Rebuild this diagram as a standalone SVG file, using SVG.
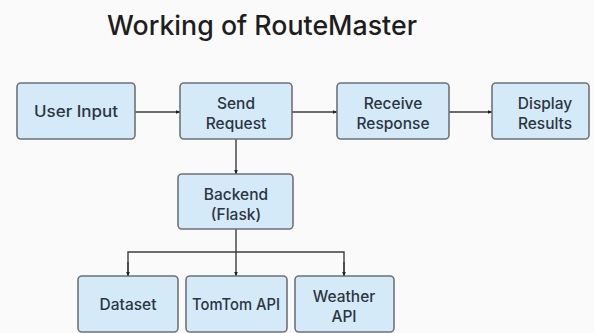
<svg xmlns="http://www.w3.org/2000/svg" width="594" height="333" viewBox="0 0 594 333">
  <defs>
    <style>
      .box { fill: #d5eaf8; stroke: #6e7276; stroke-width: 1.6; }
      .lbl { font-family: Inter, "Liberation Sans", Arial, sans-serif; font-weight: 500; font-size: 15.5px; fill: #2c3540; text-anchor: middle; }
      .title { font-family: Inter, "Liberation Sans", Arial, sans-serif; font-weight: 500; font-size: 27px; fill: #1e1e1e; text-anchor: middle; }
      .conn { fill: none; stroke: #3a3d40; stroke-width: 1.4; }
    </style>
    <marker id="arr" viewBox="0 0 10 10" refX="9" refY="5" markerWidth="5" markerHeight="5" orient="auto" markerUnits="userSpaceOnUse">
      <path d="M0,1 L10,5 L0,9 z" fill="#222"/>
    </marker>
  </defs>
  <rect x="0" y="0" width="594" height="333" fill="#fafafa"/>
  <text class="title" x="262" y="35" textLength="310" lengthAdjust="spacingAndGlyphs">Working of RouteMaster</text>

  <g id="connectors">
    <line class="conn" x1="135" y1="112" x2="180" y2="112" marker-end="url(#arr)"/>
    <line class="conn" x1="292" y1="112" x2="337" y2="112" marker-end="url(#arr)"/>
    <line class="conn" x1="449" y1="112" x2="492" y2="112" marker-end="url(#arr)"/>
    <line class="conn" x1="236" y1="139" x2="236" y2="174" marker-end="url(#arr)"/>
    <line class="conn" x1="236" y1="229" x2="236" y2="276" marker-end="url(#arr)"/>
    <polyline class="conn" points="128,276 128,252 344,252 344,276"/>
    <line class="conn" x1="128" y1="262" x2="128" y2="276" marker-end="url(#arr)"/>
    <line class="conn" x1="344" y1="262" x2="344" y2="276" marker-end="url(#arr)"/>
  </g>

  <g id="user-input">
    <rect class="box" x="17" y="83" width="118" height="56" rx="4"/>
    <text class="lbl" x="76" y="117" textLength="84" lengthAdjust="spacingAndGlyphs">User Input</text>
  </g>
  <g id="send-request">
    <rect class="box" x="180" y="83" width="112" height="56" rx="4"/>
    <text class="lbl" x="236" y="109">Send</text>
    <text class="lbl" x="236" y="129">Request</text>
  </g>
  <g id="receive-response">
    <rect class="box" x="337" y="83" width="112" height="56" rx="4"/>
    <text class="lbl" x="393" y="109">Receive</text>
    <text class="lbl" x="393" y="129">Response</text>
  </g>
  <g id="display-results">
    <rect class="box" x="492" y="83" width="97" height="56" rx="4"/>
    <text class="lbl" x="545" y="109">Display</text>
    <text class="lbl" x="545" y="129">Results</text>
  </g>
  <g id="backend">
    <rect class="box" x="178" y="174" width="115" height="55" rx="4"/>
    <text class="lbl" x="236" y="200">Backend</text>
    <text class="lbl" x="236" y="220">(Flask)</text>
  </g>
  <g id="dataset">
    <rect class="box" x="78" y="276" width="100" height="56" rx="4"/>
    <text class="lbl" x="128" y="310">Dataset</text>
  </g>
  <g id="tomtom-api">
    <rect class="box" x="186" y="276" width="101" height="56" rx="4"/>
    <text class="lbl" x="236" y="310" textLength="88" lengthAdjust="spacingAndGlyphs">TomTom API</text>
  </g>
  <g id="weather-api">
    <rect class="box" x="295" y="276" width="99" height="56" rx="4"/>
    <text class="lbl" x="344" y="302">Weather</text>
    <text class="lbl" x="344" y="322">API</text>
  </g>
</svg>
